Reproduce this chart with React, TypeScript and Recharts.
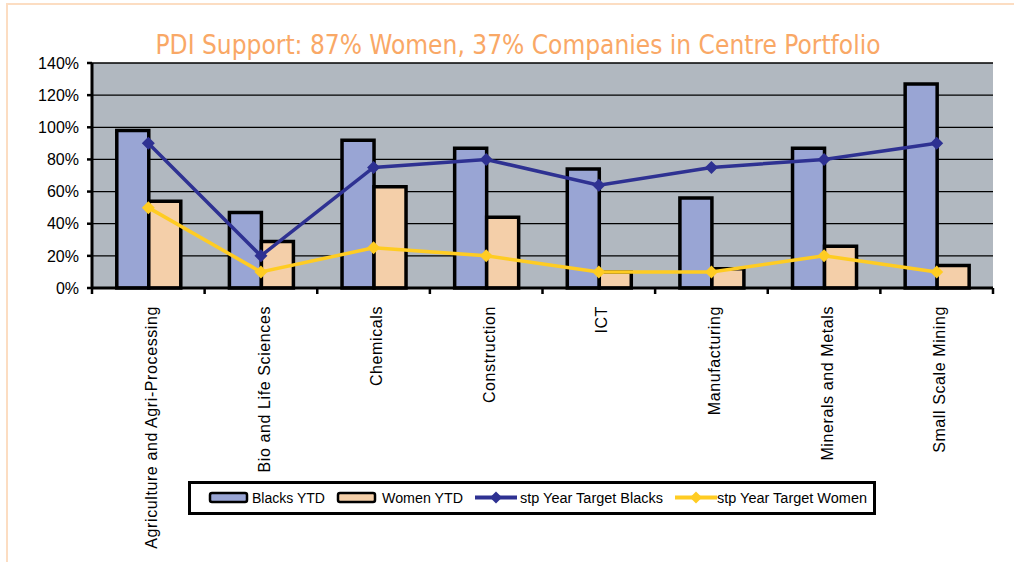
import React from 'react';
import { ComposedChart, Bar, Line, XAxis, YAxis, CartesianGrid } from 'recharts';

const categories = [
  'Agriculture and Agri-Processing',
  'Bio and Life Sciences',
  'Chemicals',
  'Construction',
  'ICT',
  'Manufacturing',
  'Minerals and Metals',
  'Small Scale Mining',
];
const blacksYtd = [98, 47, 92, 87, 74, 56, 87, 127];
const womenYtd = [54, 29, 63, 44, 10, 12, 26, 14];
const targetBlacks = [90, 20, 75, 80, 64, 75, 80, 90];
const targetWomen = [50, 10, 25, 20, 10, 10, 20, 10];
const yTicks = [0, 20, 40, 60, 80, 100, 120, 140];

const data = categories.map((name, i) => ({
  name,
  blacks: blacksYtd[i],
  women: womenYtd[i],
  tBlacks: targetBlacks[i],
  tWomen: targetWomen[i],
}));

const BLUE_BAR = '#99A5D4';
const PEACH_BAR = '#F4CFA9';
const NAVY = '#2E3192';
const YELLOW = '#FFCC22';
const FONT = "'Liberation Sans', Arial, sans-serif";

const Diamond = (color: string) => (props: any) => {
  const { cx, cy } = props;
  if (cx == null || cy == null) return null;
  const r = 6.5;
  return (
    <path
      d={`M${cx},${cy - r}L${cx + r},${cy}L${cx},${cy + r}L${cx - r},${cy}Z`}
      fill={color}
    />
  );
};

const CategoryTick = (props: any) => {
  const { x, y, payload, index } = props;
  const half = payload && payload.offset ? payload.offset : 56.3;
  return (
    <g>
      <line x1={x - half} x2={x - half} y1={y} y2={y + 6} stroke="#000" strokeWidth={2.5} />
      {index === categories.length - 1 && (
        <line x1={x + half} x2={x + half} y1={y} y2={y + 6} stroke="#000" strokeWidth={2.5} />
      )}
      <text
        x={0}
        y={0}
        transform={`translate(${x + 3}, ${y + 18}) rotate(-90)`}
        textAnchor="end"
        dy="0.35em"
        fontSize={16}
        letterSpacing={0.6}
        fontFamily={FONT}
        fill="#000"
      >
        {payload.value}
      </text>
    </g>
  );
};

// legend entries: swatch/icon left edge, text left edge, text width
const legendItems = [
  { kind: 'bar', color: BLUE_BAR, label: 'Blacks YTD', ix: 19, tx: 61, tw: 73 },
  { kind: 'bar', color: PEACH_BAR, label: 'Women YTD', ix: 147, tx: 191, tw: 81 },
  { kind: 'line', color: NAVY, label: 'stp Year Target Blacks', ix: 284, tx: 329, tw: 143 },
  { kind: 'line', color: YELLOW, label: 'stp Year Target Women', ix: 484, tx: 526, tw: 150 },
];

const App: React.FC = () => {
  return (
    <div style={{ position: 'absolute', left: 0, top: 0, width: 1014, height: 562, background: '#fff', fontFamily: FONT }}>
      <div
        style={{
          position: 'absolute',
          left: 6,
          top: 3,
          right: 0,
          bottom: 0,
          borderTop: '2px solid #FCDDC2',
          borderLeft: '2px solid #FCDDC2',
        }}
      />
      <svg width={1014} height={70} style={{ position: 'absolute', left: 0, top: 0 }}>
        <text
          x={518}
          y={54}
          textAnchor="middle"
          fontSize={26}
          fill="#F9A866"
          fontFamily="'Liberation Sans Narrow', 'DejaVu Sans Condensed', 'Roboto', sans-serif"
          textLength={725}
          lengthAdjust="spacingAndGlyphs"
        >
          PDI Support: 87% Women, 37% Companies in Centre Portfolio
        </text>
      </svg>
      <div style={{ position: 'absolute', left: 0, top: 0 }}>
        <ComposedChart
          width={1014}
          height={562}
          data={data}
          margin={{ top: 63, right: 21, bottom: 0, left: 0 }}
          barCategoryGap="22%"
          barGap={0}
        >
          <CartesianGrid vertical={false} stroke="#000" strokeWidth={1.3} fill="#B1B8C0" fillOpacity={1} />
          <XAxis
            dataKey="name"
            height={274}
            interval={0}
            tickSize={0}
            tickMargin={0}
            tickLine={false}
            axisLine={{ stroke: '#000', strokeWidth: 3 }}
            tick={<CategoryTick />}
          />
          <YAxis
            width={92}
            domain={[0, 140]}
            ticks={yTicks}
            interval={0}
            tickFormatter={(v: number) => `${v}%`}
            tickSize={5}
            tickMargin={8}
            tickLine={{ stroke: '#000', strokeWidth: 2.5 }}
            axisLine={{ stroke: '#000', strokeWidth: 3 }}
            tick={{ fill: '#000', fontSize: 16, fontFamily: FONT }}
          />
          <Bar dataKey="blacks" fill={BLUE_BAR} stroke="#000" strokeWidth={3.5} isAnimationActive={false} />
          <Bar dataKey="women" fill={PEACH_BAR} stroke="#000" strokeWidth={3.5} isAnimationActive={false} />
          <Line
            dataKey="tBlacks"
            type="linear"
            stroke={NAVY}
            strokeWidth={3.5}
            dot={Diamond(NAVY)}
            activeDot={false}
            isAnimationActive={false}
          />
          <Line
            dataKey="tWomen"
            type="linear"
            stroke={YELLOW}
            strokeWidth={3.5}
            dot={Diamond(YELLOW)}
            activeDot={false}
            isAnimationActive={false}
          />
        </ComposedChart>
      </div>
      <div
        style={{
          position: 'absolute',
          left: 188,
          top: 481,
          width: 688,
          height: 34,
          border: '3px solid #000',
          boxSizing: 'border-box',
          background: '#fff',
        }}
      >
        <svg width={682} height={28} style={{ position: 'absolute', left: 0, top: 0 }}>
          {legendItems.map((it) => (
            <g key={it.label}>
              {it.kind === 'bar' ? (
                <rect x={it.ix} y={9} width={37} height={9} rx={2} fill={it.color} stroke="#000" strokeWidth={2.5} />
              ) : (
                <g>
                  <line x1={it.ix} x2={it.ix + 42} y1={13.5} y2={13.5} stroke={it.color} strokeWidth={4} />
                  <path
                    d={`M${it.ix + 21},${7.5}L${it.ix + 27},${13.5}L${it.ix + 21},${19.5}L${it.ix + 15},${13.5}Z`}
                    fill={it.color}
                  />
                </g>
              )}
              <text
                x={it.tx}
                y={18.5}
                fontSize={14}
                fontFamily={FONT}
                fill="#000"
                textLength={it.tw}
                lengthAdjust="spacingAndGlyphs"
              >
                {it.label}
              </text>
            </g>
          ))}
        </svg>
      </div>
    </div>
  );
};

export default App;
